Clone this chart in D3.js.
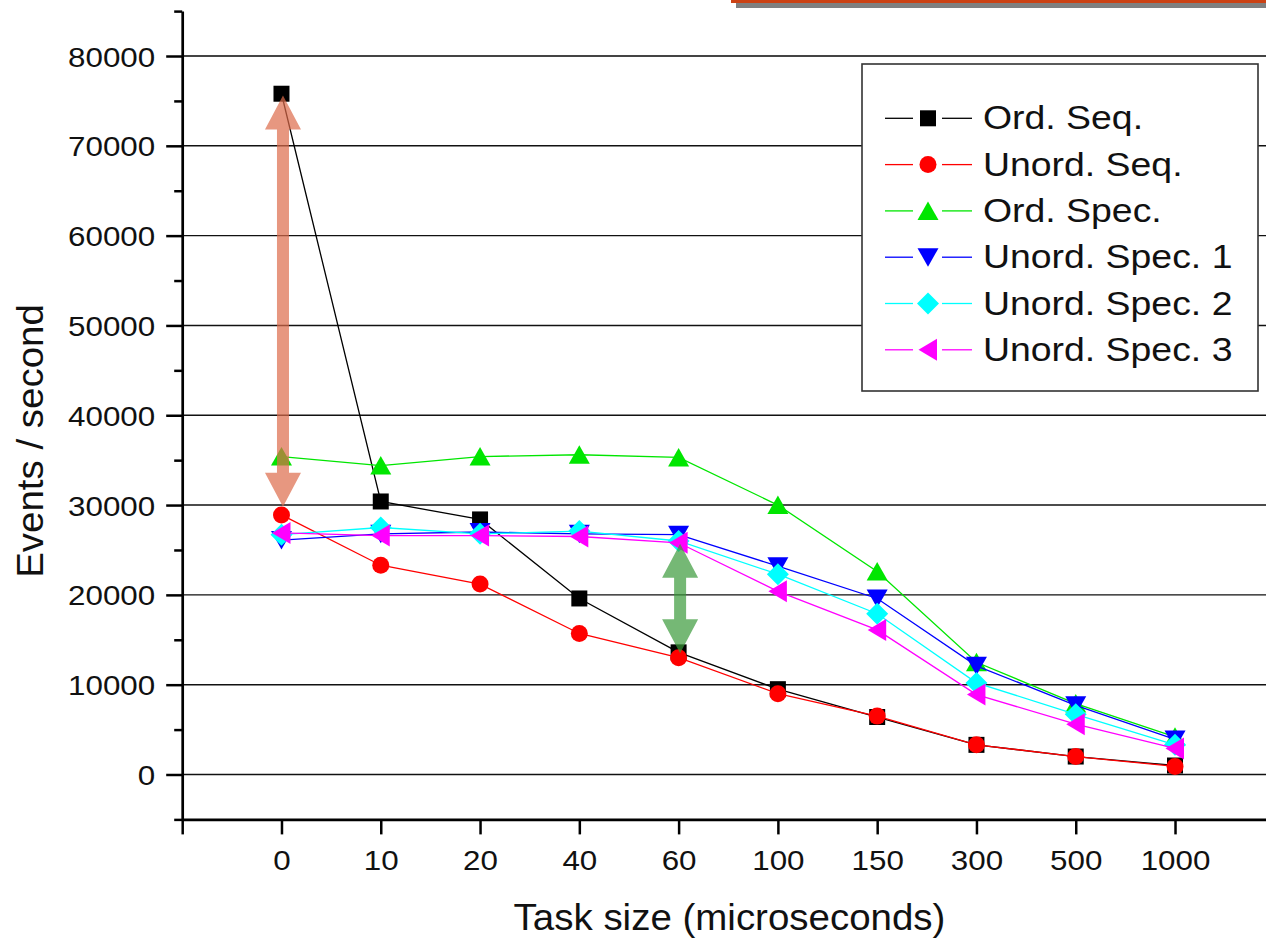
<!DOCTYPE html>
<html>
<head>
<meta charset="utf-8">
<script src="https://cdn.jsdelivr.net/npm/d3@7"></script>
<style>
  html, body { margin: 0; padding: 0; background: #fff; overflow: hidden; }
  svg { display: block; font-family: "Liberation Sans", Arial, sans-serif; }
</style>
</head>
<body>
<div id="chart"></div>
<script>
// categories on the x axis (task size in microseconds)
const taskSizes = ['0', '10', '20', '40', '60', '100', '150', '300', '500', '1000'];

// events / second for every series
const ordSeq     = [75800, 30400, 28400, 19600, 13600, 9500, 6400, 3300, 2000, 1000];
const unordSeq   = [28900, 23300, 21200, 15700, 13000, 9000, 6500, 3300, 2000, 900];
const ordSpec    = [35400, 34400, 35400, 35600, 35300, 30000, 22600, 12500, 7900, 4200];
const unordSpec1 = [26100, 26800, 27000, 26800, 26700, 23200, 19600, 12100, 7700, 3900];
const unordSpec2 = [26700, 27500, 26800, 27100, 26000, 22300, 17900, 10200, 6700, 3300];
const unordSpec3 = [26900, 26600, 26600, 26500, 25800, 20400, 16100, 8900, 5600, 2900];

const seriesNames = ['Ord. Seq.', 'Unord. Seq.', 'Ord. Spec.', 'Unord. Spec. 1', 'Unord. Spec. 2', 'Unord. Spec. 3'];
const seriesValues = [ordSeq, unordSeq, ordSpec, unordSpec1, unordSpec2, unordSpec3];

// y axis tick labels
const yTicks = [0, 10000, 20000, 30000, 40000, 50000, 60000, 70000, 80000];

// annotation arrows: category, top value, bottom value
const arrowAt     = ['0', '60'];
const arrowTop    = [75600, 25700];
const arrowBottom = [29800, 13500];

// styles
const seriesColors = ['#000000', '#ff0000', '#00e600', '#0000ff', '#00ffff', '#ff00ff'];
const seriesSymbols = ['square', 'circle', 'triUp', 'triDown', 'diamond', 'triLeft'];
const arrowColors = ['#dd6b4a', '#3a9a3a'];

const width = 1266;
const height = 940;

const svg = d3.select('#chart')
  .append('svg')
  .attr('width', width)
  .attr('height', height);

// scales: x runs on category index, one empty slot left of "0"
const x = d3.scaleLinear().domain([-1, 10]).range([182.2, 1274.3]);
const y = d3.scaleLinear().domain([-5000, 85000]).range([819.4, 11.1]);

// slide decoration at the top right
svg.append('rect').attr('x', 736).attr('y', 3).attr('width', 530).attr('height', 5).attr('fill', '#808080');
svg.append('rect').attr('x', 731).attr('y', 0).attr('width', 535).attr('height', 3).attr('fill', '#cc4214');

// horizontal grid lines
svg.append('g')
  .selectAll('line')
  .data(yTicks)
  .join('line')
  .attr('x1', x(-1))
  .attr('x2', width)
  .attr('y1', d => y(d))
  .attr('y2', d => y(d))
  .attr('stroke', d => d === 80000 ? '#444' : '#111')
  .attr('stroke-width', d => d === 80000 ? 2 : 1.4);

// y axis, minor then major ticks
svg.append('g')
  .attr('transform', `translate(${x(-1)},0)`)
  .call(d3.axisLeft(y).tickValues(d3.range(-5000, 85001, 10000)).tickSize(8).tickFormat(''))
  .call(g => g.select('.domain').remove())
  .call(g => g.selectAll('line').attr('stroke', '#000').attr('stroke-width', 2.5));

const yAxis = svg.append('g')
  .attr('transform', `translate(${x(-1)},0)`)
  .call(d3.axisLeft(y).tickValues(yTicks).tickSizeInner(16).tickSizeOuter(0).tickFormat(d3.format('d')));

yAxis.select('.domain').attr('stroke', '#000').attr('stroke-width', 2.7);
yAxis.selectAll('.tick line').attr('stroke', '#000').attr('stroke-width', 2.5);
yAxis.selectAll('.tick text')
  .attr('x', null)
  .attr('dy', '0.36em')
  .attr('transform', 'translate(-27,0) scale(1.12,1)')
  .attr('text-anchor', 'end')
  .attr('fill', '#111')
  .style('font-size', '28px');

// x axis
const xAxis = svg.append('g')
  .attr('transform', `translate(0,${y(-5000)})`)
  .call(d3.axisBottom(x)
    .tickValues(d3.range(-1, 11))
    .tickFormat(i => taskSizes[i] ?? '')
    .tickSizeInner(15)
    .tickSizeOuter(0));

xAxis.select('.domain').attr('stroke', '#000').attr('stroke-width', 2.7);
xAxis.selectAll('.tick line').attr('stroke', '#000').attr('stroke-width', 2.5);
xAxis.selectAll('.tick text')
  .attr('y', null)
  .attr('dy', null)
  .attr('transform', 'translate(0,50.6) scale(1.12,1)')
  .attr('text-anchor', 'middle')
  .attr('fill', '#111')
  .style('font-size', '28px');

// axis titles
svg.append('text')
  .attr('transform', 'translate(729.5,930) scale(1.04,1)')
  .attr('text-anchor', 'middle')
  .attr('fill', '#111')
  .style('font-size', '37px')
  .text('Task size (microseconds)');

svg.append('text')
  .attr('transform', 'translate(43,441) rotate(-90) scale(1.04,1)')
  .attr('text-anchor', 'middle')
  .attr('fill', '#111')
  .style('font-size', '37px')
  .text('Events / second');

// marker shapes, centred on their bounding box like the original
function markerPath(kind) {
  switch (kind) {
    case 'square': return 'M-8,-8H8V8H-8Z';
    case 'circle': return d3.symbol(d3.symbolCircle, Math.PI * 8.5 * 8.5)();
    case 'triUp': return 'M0,-9.5L10.5,9L-10.5,9Z';
    case 'triDown': return 'M0,9.5L10.5,-9L-10.5,-9Z';
    case 'diamond': return 'M0,-11L11,0L0,11L-11,0Z';
    case 'triLeft': return 'M-9.5,0L9,-11L9,11Z';
  }
}

const line = d3.line()
  .x((d, i) => x(i))
  .y(d => y(d));

// lines and markers, series by series
seriesValues.forEach((values, s) => {
  const g = svg.append('g');
  g.append('path')
    .datum(values)
    .attr('d', line)
    .attr('fill', 'none')
    .attr('stroke', seriesColors[s])
    .attr('stroke-width', 1.3);
  g.selectAll('path.marker')
    .data(values)
    .join('path')
    .attr('class', 'marker')
    .attr('d', markerPath(seriesSymbols[s]))
    .attr('transform', (d, i) => `translate(${x(i)},${y(d)})`)
    .attr('fill', seriesColors[s]);
});

// double headed arrows
function arrowPath(cx, yTop, yBot) {
  const shaft = 6, head = 18, len = 34;
  return `M${cx},${yTop}L${cx + head},${yTop + len}L${cx + shaft},${yTop + len}` +
    `L${cx + shaft},${yBot - len}L${cx + head},${yBot - len}L${cx},${yBot}` +
    `L${cx - head},${yBot - len}L${cx - shaft},${yBot - len}L${cx - shaft},${yTop + len}` +
    `L${cx - head},${yTop + len}Z`;
}

svg.append('g')
  .selectAll('path')
  .data(arrowAt)
  .join('path')
  .attr('d', (d, i) => arrowPath(x(taskSizes.indexOf(d)) + 1.5, y(arrowTop[i]), y(arrowBottom[i])))
  .attr('fill', (d, i) => arrowColors[i])
  .attr('opacity', 0.7);

// legend
const legend = svg.append('g');
legend.append('rect')
  .attr('x', 862)
  .attr('y', 64)
  .attr('width', 396)
  .attr('height', 327)
  .attr('fill', '#fff')
  .attr('stroke', '#333')
  .attr('stroke-width', 1.6);

const rows = legend.selectAll('g.row')
  .data(seriesNames)
  .join('g')
  .attr('class', 'row')
  .attr('transform', (d, i) => `translate(0,${118.3 + i * 46.3})`);

rows.append('line')
  .attr('x1', 885).attr('x2', 913)
  .attr('stroke', (d, i) => seriesColors[i]).attr('stroke-width', 1.3);
rows.append('line')
  .attr('x1', 942).attr('x2', 972)
  .attr('stroke', (d, i) => seriesColors[i]).attr('stroke-width', 1.3);
rows.append('path')
  .attr('d', (d, i) => markerPath(seriesSymbols[i]))
  .attr('transform', 'translate(928,0)')
  .attr('fill', (d, i) => seriesColors[i]);
rows.append('text')
  .attr('transform', 'translate(983,11) scale(1.1,1)')
  .attr('fill', '#111')
  .style('font-size', '34px')
  .text(d => d);
</script>
</body>
</html>
